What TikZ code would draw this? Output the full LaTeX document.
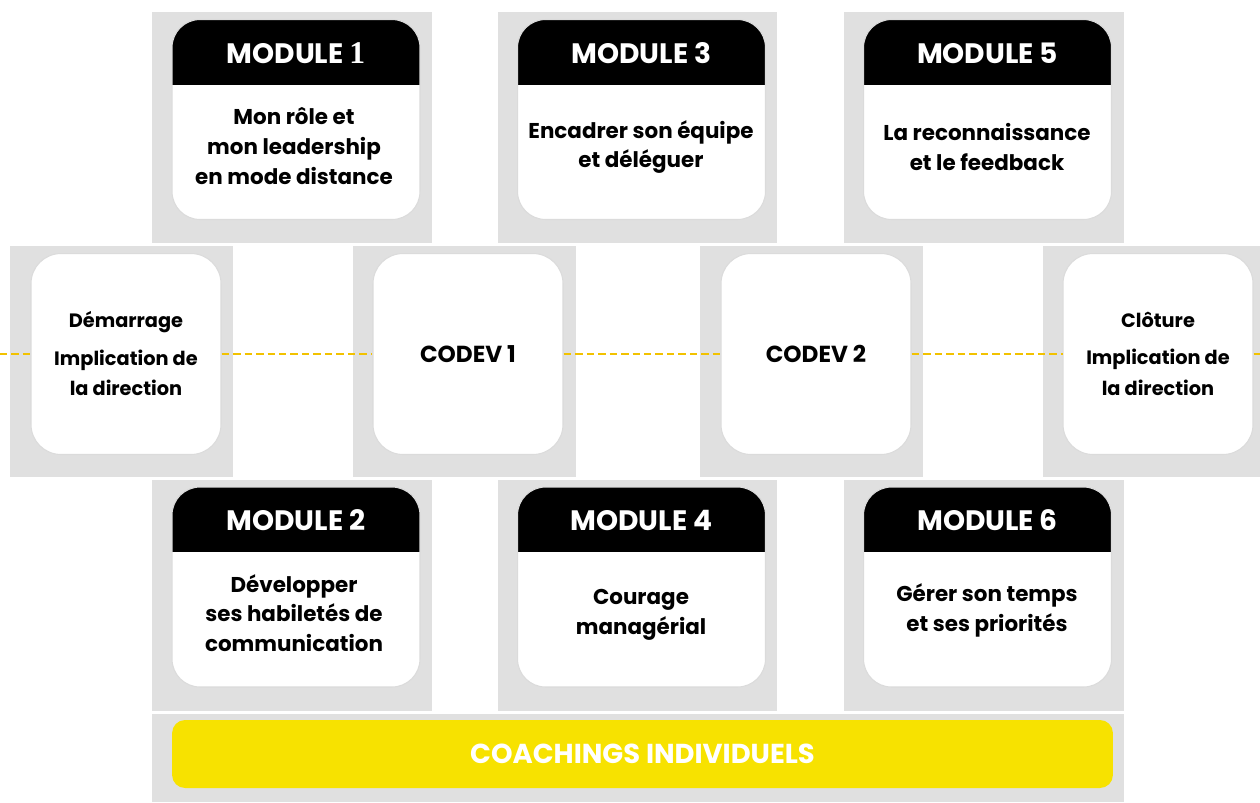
\documentclass[tikz,border=0pt]{standalone}
\usepackage{fontspec}
\setmainfont{Poppins}
\newfontfamily\numfont{Liberation Serif}
\usepackage{tikz}
\usepackage{color}
\definecolor{panelgray}{HTML}{E0E0E0}
\definecolor{barjaune}{HTML}{F7E200}
\definecolor{tiret}{HTML}{F2C200}

\begin{document}
\begin{tikzpicture}[x=0.02cm, y=-0.02cm, every text node part/.style={align=center},
  modbox/.style={draw=black!14, line width=0.6pt, fill=white, rounded corners=0.56cm, minimum width=4.96cm, minimum height=4cm, inner sep=0pt,
    path picture={\fill[black, sharp corners] (path picture bounding box.north west) rectangle ([yshift=-1.3cm]path picture bounding box.north east);}},
  stepbox/.style={draw=black!14, line width=0.6pt, fill=white, rounded corners=0.6cm, minimum width=3.8cm, minimum height=4.02cm, inner sep=0pt,
    font=\bfseries\fontsize{11}{17.6}\selectfont},
  modtitle/.style={text=white, font=\bfseries\fontsize{16}{19}\selectfont},
  modbody/.style={font=\bfseries\fontsize{12.2}{17}\selectfont},
  tiretline/.style={draw=tiret, line width=1.2pt, dash pattern=on 0.15cm off 0.08cm}]
\useasboundingbox (0,0) rectangle (1260,802);

\fill[panelgray] (152,12) rectangle (432,243);
\fill[panelgray] (498,12) rectangle (777,243);
\fill[panelgray] (844,12) rectangle (1124,243);
\fill[panelgray] (10,246) rectangle (233,477);
\fill[panelgray] (353,246) rectangle (576,477);
\fill[panelgray] (700,246) rectangle (923,477);
\fill[panelgray] (1043,246) rectangle (1260,477);
\fill[panelgray] (152,480) rectangle (432,711);
\fill[panelgray] (498,480) rectangle (777,711);
\fill[panelgray] (844,480) rectangle (1124,711);
\fill[panelgray] (152,714) rectangle (1124,802);

\node [modbox] (m1) at (296,119.5) {};
\node [modbox] (m3) at (641.5,119.5) {};
\node [modbox] (m5) at (987.5,119.5) {};
\node [modbox] (m2) at (296,587) {};
\node [modbox] (m4) at (641.5,587) {};
\node [modbox] (m6) at (987.5,587) {};

\node [modtitle] (m1t) at ([yshift=-0.68cm]m1.north) {MODULE {\numfont\fontsize{18}{19}\selectfont 1}};
\node [modtitle] (m3t) at ([yshift=-0.68cm]m3.north) {MODULE 3};
\node [modtitle] (m5t) at ([yshift=-0.68cm]m5.north) {MODULE 5};
\node [modtitle] (m2t) at ([yshift=-0.68cm]m2.north) {MODULE 2};
\node [modtitle] (m4t) at ([yshift=-0.68cm]m4.north) {MODULE 4};
\node [modtitle] (m6t) at ([yshift=-0.68cm]m6.north) {MODULE 6};

\node [modbody] (m1b) at (294,146) {Mon rôle et\\mon leadership\\en mode distance};
\node [modbody] (m3b) at (641,147) {Encadrer son équipe\\et déléguer};
\node [modbody] (m5b) at (987,147) {La reconnaissance\\et le feedback};
\node [modbody] (m2b) at (294,613) {Développer\\ses habiletés de\\communication};
\node [modbody] (m4b) at (641,615) {Courage\\managérial};
\node [modbody] (m6b) at (987,610.5) {Gérer son temps\\et ses priorités};

\node [stepbox] (dem) at (126,354) {Démarrage\\[3.5pt]Implication de\\la direction};
\node [stepbox] (cv1) at (468,354) {\fontsize{13.2}{17}\selectfont CODEV 1};
\node [stepbox] (cv2) at (816,354) {\fontsize{13.2}{17}\selectfont CODEV 2};
\node [stepbox] (clo) at (1158,354) {Clôture\\[3.5pt]Implication de\\la direction};

\coordinate (debut) at (0,354);
\coordinate (fin) at (1260,354);
\draw [tiretline] (debut) -- (dem.west);
\draw [tiretline] (dem.east) -- (cv1.west);
\draw [tiretline] (cv1.east) -- (cv2.west);
\draw [tiretline] (cv2.east) -- (clo.west);
\draw [tiretline] (clo.east) -- (fin);

\node [fill=barjaune, rounded corners=0.26cm, minimum width=18.82cm, minimum height=1.36cm, text=white, font=\bfseries\fontsize{15.6}{18}\selectfont] (coach) at (642.5,754) {COACHINGS INDIVIDUELS};

\end{tikzpicture}
\end{document}
